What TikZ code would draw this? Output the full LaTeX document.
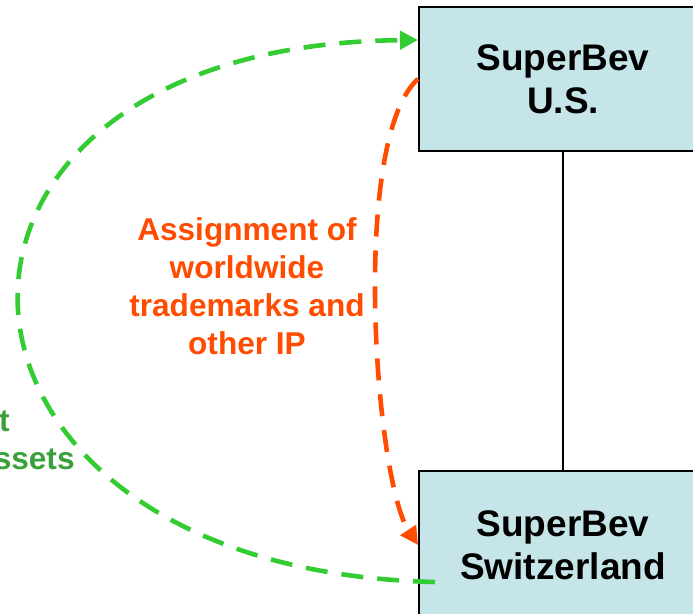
\documentclass[tikz,border=0pt]{standalone}
\usepackage{fontspec}
\setmainfont{Liberation Sans}
\usetikzlibrary{arrows.meta}

\definecolor{boxblue}{RGB}{197,229,232}
\definecolor{ipgreen}{RGB}{51,204,51}
\definecolor{ipgreentext}{RGB}{58,160,58}
\definecolor{iporange}{RGB}{255,76,0}

\tikzset{
  entity/.style={draw=black, line width=1pt, fill=boxblue, minimum width=144pt,
    minimum height=72pt, align=center, font=\fontsize{18.5}{21.5}\selectfont\bfseries},
  flow/.style={line width=2.3pt, dash pattern=on 11pt off 7pt},
  flowlabel/.style={align=center, font=\fontsize{15.8}{19}\selectfont\bfseries},
}

\begin{document}
\begin{tikzpicture}[x=0.5pt,y=-0.5pt]
  \useasboundingbox (0,0) rectangle (693,614);
  \clip (0,0) rectangle (693,614);

  % the two companies
  \node[entity] (us) at (563,79) {SuperBev\\U.S.};
  \node[entity, minimum height=74pt] (ch) at (563,545) {SuperBev\\Switzerland};
  \draw[line width=0.8pt] (us) -- (ch);

  % transfers
  \draw[flow, ipgreen, -{Triangle[length=9pt,width=9pt]}]
    ([xshift=8.5pt,yshift=-18.5pt]ch.west) .. controls (-103,570) and (-128,45) .. ([yshift=19.5pt]us.west);
  \draw[flow, iporange, -{Triangle[length=9pt,width=9pt]}]
    (us.west) .. controls (350,140) and (375,480) .. (ch.west);

  \node[flowlabel, text=iporange] (ip) at (247,286) {Assignment of\\worldwide\\trademarks and\\other IP};
  \node[flowlabel, text=ipgreentext, anchor=base east, inner sep=0pt] (ga) at (10,432) {t};
  \node[flowlabel, text=ipgreentext, anchor=base east, inner sep=0pt] (gb) at (75,470) {ssets};
\end{tikzpicture}
\end{document}
